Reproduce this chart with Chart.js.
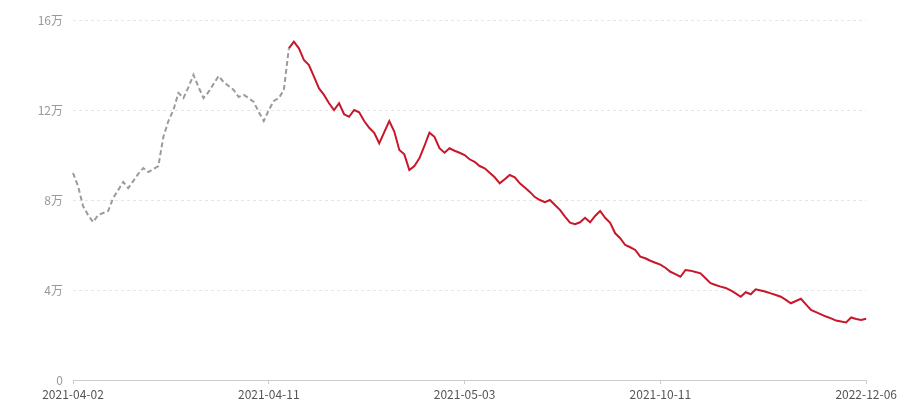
<!DOCTYPE html>
<html>
<head>
<meta charset="utf-8">
<script src="https://cdn.jsdelivr.net/npm/chart.js@4.4.1/dist/chart.umd.min.js"></script>
<style>
html,body{margin:0;padding:0;background:#fff;}
#wrap{width:900px;height:400px;}
</style>
</head>
<body>
<div id="wrap"><canvas id="c" width="900" height="400"></canvas></div>
<script>
// Historical (dashed gray) values, index 0..43
const historyValues = [
  92000, 86200, 77300, 73300, 70200, 73300, 74200, 75100, 80900, 84400,
  88000, 85300, 88400, 91600, 94200, 92400, 93800, 95100, 108000, 115100,
  120000, 127600, 125300, 130200, 135600, 130200, 125300, 128000, 131600, 135100,
  132400, 130700, 128900, 125800, 126700, 125300, 123600, 119100, 115100, 120000,
  124000, 125300, 128900, 147400
];
// Recent (solid red) values, index 43..158
const recentValues = [
  147400, 150400, 147400, 142200, 140000, 134800, 129600, 126700, 123000, 120000,
  123000, 118100, 117000, 120000, 119000, 115100, 112100, 109900, 105200, 110200,
  115100, 110400, 102200, 100300, 93300, 95100, 98500, 104000, 109900, 108100,
  103000, 101000, 103000, 101900, 101000, 100000, 98100, 97000, 95100, 94100,
  92100, 90100, 87400, 89200, 91100, 90100, 87400, 85600, 83600, 81300,
  80000, 79000, 80000, 77800, 75600, 72600, 69900, 69200, 70100, 72100,
  70100, 72900, 75100, 72100, 69900, 65200, 63000, 60000, 59000, 57800,
  54800, 54100, 53000, 52100, 51300, 49900, 48100, 47100, 45900, 48900,
  48600, 48000, 47400, 45200, 43000, 42200, 41500, 40900, 39800, 38500,
  37000, 39000, 38100, 40300, 39800, 39200, 38500, 37800, 37000, 35600,
  34100, 35100, 36100, 33600, 31100, 30200, 29200, 28200, 27400, 26400,
  26000, 25600, 27800, 27100, 26700, 27200
];
const tickIndex = [0, 39, 78, 117, 158];
const tickLabels = ['2021-04-02', '2021-04-11', '2021-05-03', '2021-10-11', '2022-12-06'];
const yTicks = [0, 40000, 80000, 120000, 160000];
const yTickLabels = ['0', '4万', '8万', '12万', '16万'];

const splitIndex = historyValues.length - 1; // shared point
const total = splitIndex + recentValues.length;
const labels = Array.from({length: total}, (_, i) => i);
const grayData = labels.map(i => i <= splitIndex ? historyValues[i] : null);
const redData = labels.map(i => i >= splitIndex ? recentValues[i - splitIndex] : null);

const FONT = "'Noto Sans CJK SC', 'Noto Sans', sans-serif";

new Chart(document.getElementById('c'), {
  type: 'line',
  data: {
    labels: labels,
    datasets: [
      {
        data: grayData,
        borderColor: '#9b9b9b',
        borderWidth: 2,
        borderDash: [5, 3],
        pointRadius: 0,
        tension: 0,
        fill: false,
        spanGaps: false
      },
      {
        data: redData,
        borderColor: '#c8162b',
        borderWidth: 2,
        pointRadius: 0,
        tension: 0,
        fill: false,
        spanGaps: false
      }
    ]
  },
  options: {
    responsive: false,
    animation: false,
    layout: { padding: { top: 20, right: 33, bottom: 0, left: 0 } },
    plugins: { legend: { display: false }, tooltip: { enabled: false } },
    scales: {
      x: {
        type: 'category',
        offset: false,
        afterBuildTicks: s => { s.ticks = tickIndex.map(v => ({ value: v })); },
        afterFit: s => { s.height = 20; },
        grid: { drawOnChartArea: false, drawTicks: true, tickLength: 4, color: '#cccccc' },
        border: { display: true, color: '#cccccc', width: 1 },
        ticks: {
          autoSkip: false,
          maxRotation: 0,
          padding: 3,
          color: '#555555',
          font: { family: FONT, size: 12 },
          callback: function (value) {
            const k = tickIndex.indexOf(value);
            return k >= 0 ? tickLabels[k] : null;
          }
        }
      },
      y: {
        min: 0,
        max: 160000,
        afterBuildTicks: s => { s.ticks = yTicks.map(v => ({ value: v })); },
        afterFit: s => { s.width = 73; },
        grid: { drawTicks: false, color: '#e6e6e6', lineWidth: 1 },
        border: { display: false, dash: [3, 3] },
        ticks: {
          padding: 10,
          color: '#999999',
          font: { family: FONT, size: 12 },
          callback: function (value) {
            const k = yTicks.indexOf(value);
            return k >= 0 ? yTickLabels[k] : '';
          }
        }
      }
    }
  }
});
</script>
</body>
</html>
